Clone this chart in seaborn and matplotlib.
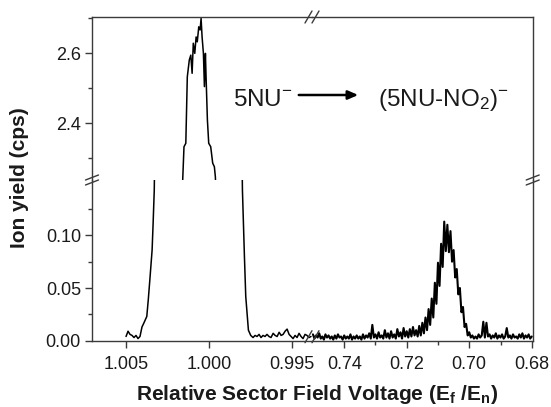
import numpy as np
import pandas as pd
import matplotlib
matplotlib.use("Agg")
import matplotlib.pyplot as plt
import seaborn as sns
from matplotlib.lines import Line2D
from matplotlib.ticker import FixedLocator, FormatStrFormatter

# ---------------- data ----------------
# left segment: parent ion peak around E_f/E_p = 1.000
left_x = [1.00500, 1.00488, 1.00476, 1.00464, 1.00452, 1.00440, 1.00428, 1.00416,
          1.00404, 1.00392, 1.00375, 1.00366, 1.00357, 1.00343, 1.00337, 1.00330,
          1.00158, 1.00151, 1.00140, 1.00131, 1.00119, 1.00110, 1.00102, 1.00095,
          1.00086, 1.00078, 1.00071, 1.00062, 1.00054, 1.00048, 1.00042, 1.00034,
          1.00028, 1.00022, 1.00018, 1.00010, 1.00002, 0.99990, 0.99978, 0.99968,
          0.99962,
          0.99799, 0.99787, 0.99779, 0.99763, 0.99749, 0.99735, 0.99723, 0.99711,
          0.99699, 0.99687, 0.99675, 0.99663, 0.99651, 0.99639, 0.99627, 0.99614,
          0.99602, 0.99590, 0.99578, 0.99566, 0.99554, 0.99542, 0.99530, 0.99518,
          0.99506, 0.99494, 0.99482, 0.99470, 0.99458, 0.99446, 0.99434, 0.99422,
          0.99410, 0.99398, 0.99386]
left_y = [0.004, 0.009, 0.006, 0.005, 0.003, 0.005, 0.002, 0.004,
          0.013, 0.017, 0.023, 0.039, 0.057, 0.086, 0.111, 0.143,
          2.247, 2.333, 2.343, 2.533, 2.581, 2.595, 2.543, 2.629,
          2.600, 2.647, 2.633, 2.676, 2.667, 2.700, 2.647, 2.600,
          2.505, 2.600, 2.533, 2.410, 2.343, 2.333, 2.286, 2.276,
          2.247,
          0.143, 0.080, 0.042, 0.010, 0.005, 0.003, 0.005, 0.004,
          0.006, 0.003, 0.005, 0.004, 0.006, 0.004, 0.003, 0.007,
          0.005, 0.004, 0.008, 0.005, 0.006, 0.009, 0.011, 0.006,
          0.004, 0.002, 0.005, 0.003, 0.007, 0.004, 0.002, 0.006,
          0.005, 0.003, 0.004]

# right segment: fragment (5NU-NO2)- peak around 0.706
right_x = [0.7500, 0.7495, 0.7490, 0.7485, 0.7480, 0.7475, 0.7470, 0.7465, 0.7460, 0.7455,
           0.7450, 0.7445, 0.7440, 0.7435, 0.7430, 0.7425, 0.7420, 0.7415, 0.7410, 0.7405,
           0.7400, 0.7395, 0.7390, 0.7385, 0.7380, 0.7375, 0.7370, 0.7365, 0.7360, 0.7355,
           0.7350, 0.7345, 0.7340, 0.7335, 0.7330, 0.7325, 0.7320, 0.7315, 0.7310, 0.7305,
           0.7300, 0.7295, 0.7290, 0.7285, 0.7280, 0.7275, 0.7270, 0.7265, 0.7260, 0.7255,
           0.7250, 0.7245, 0.7240, 0.7235, 0.7230, 0.7225, 0.7220, 0.7215, 0.7210, 0.7205,
           0.7200, 0.7195, 0.7190, 0.7185, 0.7180, 0.7175, 0.7170, 0.7165, 0.7160, 0.7155,
           0.7150, 0.7145, 0.7140, 0.7135, 0.7130, 0.7125, 0.7120, 0.7115, 0.7110, 0.7105,
           0.7100, 0.7095, 0.7090, 0.7085, 0.7080, 0.7075, 0.7070, 0.7065, 0.7060, 0.7055,
           0.7050, 0.7045, 0.7040, 0.7035, 0.7030, 0.7025, 0.7020, 0.7015, 0.7010, 0.7005,
           0.7000, 0.6995, 0.6990, 0.6985, 0.6980, 0.6975, 0.6970, 0.6965, 0.6960, 0.6955,
           0.6950, 0.6945, 0.6940, 0.6935, 0.6930, 0.6925, 0.6920, 0.6915, 0.6910, 0.6905,
           0.6900, 0.6895, 0.6890, 0.6885, 0.6880, 0.6875, 0.6870, 0.6865, 0.6860, 0.6855,
           0.6850, 0.6845, 0.6840, 0.6835, 0.6830, 0.6825, 0.6820, 0.6815, 0.6810, 0.6805,
           0.6800]
right_y = [0.006, 0.002, 0.005, 0.003, 0.007, 0.002, 0.004, 0.001, 0.006, 0.003,
           0.005, 0.002, 0.004, 0.001, 0.005, 0.002, 0.006, 0.003, 0.004, 0.001,
           0.005, 0.002, 0.004, 0.002, 0.006, 0.001, 0.004, 0.002, 0.005, 0.002,
           0.004, 0.001, 0.006, 0.002, 0.005, 0.003, 0.007, 0.002, 0.015, 0.003,
           0.006, 0.002, 0.008, 0.003, 0.005, 0.002, 0.010, 0.003, 0.007, 0.002,
           0.009, 0.003, 0.006, 0.002, 0.011, 0.004, 0.008, 0.002, 0.012, 0.004,
           0.009, 0.003, 0.011, 0.004, 0.013, 0.005, 0.010, 0.004, 0.014, 0.005,
           0.017, 0.007, 0.022, 0.010, 0.030, 0.015, 0.040, 0.022, 0.055, 0.035,
           0.074, 0.052, 0.092, 0.070, 0.113, 0.085, 0.110, 0.084, 0.104, 0.075,
           0.086, 0.060, 0.068, 0.044, 0.050, 0.027, 0.032, 0.013, 0.016, 0.005,
           0.008, 0.003, 0.005, 0.002, 0.004, 0.002, 0.006, 0.003, 0.005, 0.018,
           0.003, 0.017, 0.004, 0.006, 0.002, 0.005, 0.003, 0.007, 0.002, 0.005,
           0.003, 0.006, 0.002, 0.004, 0.012, 0.003, 0.005, 0.002, 0.006, 0.003,
           0.004, 0.002, 0.006, 0.003, 0.007, 0.002, 0.005, 0.003, 0.006, 0.002,
           0.004]

left_xticks = [1.005, 1.000, 0.995]
right_xticks = [0.74, 0.72, 0.70, 0.68]
right_xminor = [0.73, 0.71, 0.69]
top_yticks = [2.4, 2.6]
top_yminor = [2.3, 2.5, 2.7]
bot_yticks = [0.00, 0.05, 0.10]
bot_yminor = [0.025, 0.075, 0.125]

left_df = pd.DataFrame({"x": left_x, "y": left_y})
right_df = pd.DataFrame({"x": right_x, "y": right_y})

# ---------------- style ----------------
sns.set_theme(style="ticks")
plt.rcParams["font.family"] = ["Liberation Sans", "DejaVu Sans"]
plt.rcParams["mathtext.fontset"] = "custom"
plt.rcParams["mathtext.rm"] = "Liberation Sans"
plt.rcParams["mathtext.it"] = "Liberation Sans:italic"
plt.rcParams["mathtext.bf"] = "Liberation Sans:bold"

SPINE = "#3a3a3a"
W, H = 551, 407
fig = plt.figure(figsize=(W / 100, H / 100), dpi=100)

L, R, T, B = 92, 532.7, 17, 340.7
XS, YS = 312, 180


def frame(x0, y0, x1, y1):
    return [x0 / W, 1 - y1 / H, (x1 - x0) / W, (y1 - y0) / H]


ax_tl = fig.add_axes(frame(L, T, XS, YS))
ax_tr = fig.add_axes(frame(XS, T, R, YS))
ax_bl = fig.add_axes(frame(L, YS, XS, B))
ax_br = fig.add_axes(frame(XS, YS, R, B))

for ax in (ax_tl, ax_bl):
    sns.lineplot(data=left_df, x="x", y="y", ax=ax, color="black", lw=1.1,
                 estimator=None, sort=False)
sns.lineplot(data=right_df, x="x", y="y", ax=ax_br, color="black", lw=1.5,
             estimator=None, sort=False)

XL_LEFT = (1.00705, 0.99380)
XL_RIGHT = (0.7503, 0.6797)
YL_TOP = (2.238, 2.704)
YL_BOT = (0.0, 0.1525)

for ax in (ax_tl, ax_bl):
    ax.set_xlim(*XL_LEFT)
for ax in (ax_tr, ax_br):
    ax.set_xlim(*XL_RIGHT)
for ax in (ax_tl, ax_tr):
    ax.set_ylim(*YL_TOP)
for ax in (ax_bl, ax_br):
    ax.set_ylim(*YL_BOT)

for ax in (ax_tl, ax_tr, ax_bl, ax_br):
    ax.set_xlabel("")
    ax.set_ylabel("")
    ax.patch.set_alpha(0)
    for s in ax.spines.values():
        s.set_color(SPINE)
        s.set_linewidth(1.0)
    ax.tick_params(which="both", direction="out", color=SPINE, width=1.0,
                   labelsize=13, labelcolor="#1a1a1a")
    ax.tick_params(which="major", length=5)
    ax.tick_params(which="minor", length=3)

# spines visibility
ax_tl.spines["right"].set_visible(False)
ax_tl.spines["bottom"].set_visible(False)
ax_tr.spines["left"].set_visible(False)
ax_tr.spines["bottom"].set_visible(False)
ax_bl.spines["right"].set_visible(False)
ax_bl.spines["top"].set_visible(False)
ax_br.spines["left"].set_visible(False)
ax_br.spines["top"].set_visible(False)

# ticks
ax_tl.set_xticks([])
ax_tr.set_xticks([])
ax_tr.set_yticks([])
ax_br.set_yticks([])

ax_tl.yaxis.set_major_locator(FixedLocator(top_yticks))
ax_tl.yaxis.set_minor_locator(FixedLocator(top_yminor))
ax_tl.yaxis.set_major_formatter(FormatStrFormatter("%.1f"))

ax_bl.yaxis.set_major_locator(FixedLocator(bot_yticks))
ax_bl.yaxis.set_minor_locator(FixedLocator(bot_yminor))
ax_bl.yaxis.set_major_formatter(FormatStrFormatter("%.2f"))

ax_bl.xaxis.set_major_locator(FixedLocator(left_xticks))
ax_bl.xaxis.set_major_formatter(FormatStrFormatter("%.3f"))

ax_br.xaxis.set_major_locator(FixedLocator(right_xticks))
ax_br.xaxis.set_minor_locator(FixedLocator(right_xminor))
ax_br.xaxis.set_major_formatter(FormatStrFormatter("%.2f"))

ax_bl.tick_params(axis="x", pad=6)
ax_br.tick_params(axis="x", pad=6)
ax_tl.tick_params(axis="y", pad=3)
ax_bl.tick_params(axis="y", pad=3)


# ---------------- break marks ----------------
def pix_line(x0, y0, x1, y1):
    fig.add_artist(Line2D([x0 / W, x1 / W], [1 - y0 / H, 1 - y1 / H],
                          transform=fig.transFigure, color=SPINE, lw=1.0))


def mark_h(xc, yc):
    # two steep slashes on a horizontal spine
    for dx in (-3.5, 3.5):
        pix_line(xc + dx - 3.5, yc + 6, xc + dx + 3.5, yc - 6)


def mark_v(xc, yc):
    # two shallow slashes on a vertical spine
    for dy in (-2.5, 2.5):
        pix_line(xc - 6.5, yc + dy + 2.5, xc + 6.5, yc + dy - 2.5)


mark_h(312, T)
mark_h(312, B - 4)
mark_v(L, YS)
mark_v(R, YS)

# ---------------- texts ----------------
fig.text(317 / W, 1 - 394 / H,
         r"Relative Sector Field Voltage (E$_\mathbf{f}$ /E$_\mathbf{n}$)",
         ha="center", va="center", fontsize=15, fontweight="bold", color="#1a1a1a")
fig.text(20 / W, 1 - 178 / H, "Ion yield (cps)", rotation=90,
         ha="center", va="center", fontsize=15, fontweight="bold", color="#1a1a1a")

fig.text(233 / W, 1 - 106 / H, r"5NU$^{\mathregular{-}}$", ha="left",
         va="baseline", fontsize=17.5, color="#1a1a1a")
fig.text(378 / W, 1 - 106 / H, r"(5NU-NO$_{\mathregular{2}}$)$^{\mathregular{-}}$",
         ha="left", va="baseline", fontsize=17.5, color="#1a1a1a")
fig.add_artist(matplotlib.patches.FancyArrowPatch(
    (296 / W, 1 - 95 / H), (361 / W, 1 - 95 / H), transform=fig.transFigure,
    arrowstyle="-|>,head_length=6,head_width=2.6", mutation_scale=1,
    color="black", lw=1.8))

fig.savefig("out.png", dpi=100)
